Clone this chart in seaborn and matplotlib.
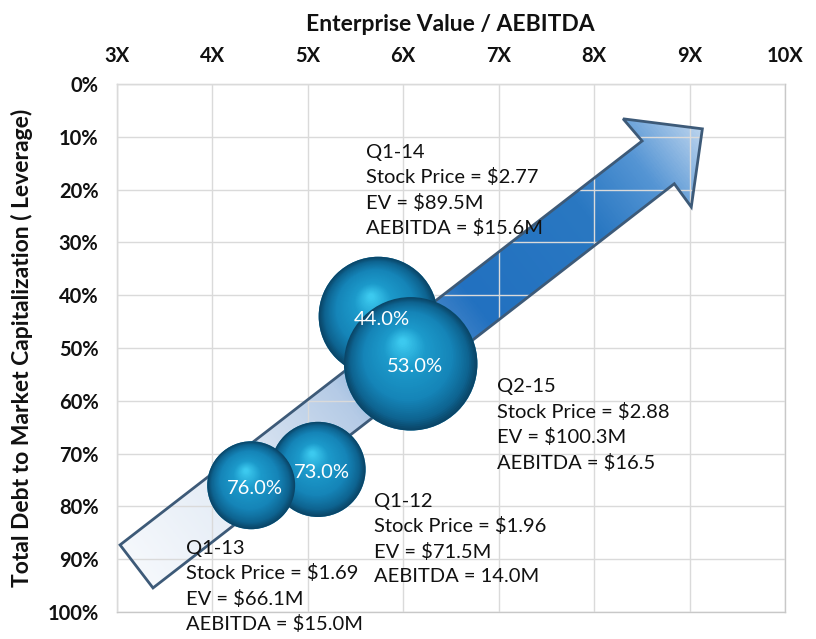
import numpy as np
import pandas as pd
import matplotlib
matplotlib.use("Agg")
import matplotlib.pyplot as plt
import seaborn as sns
from matplotlib.patches import Polygon
from matplotlib.colors import LinearSegmentedColormap
from matplotlib.transforms import offset_copy

sns.set_style("white")
plt.rcParams["font.family"] = ["Lato", "DejaVu Sans"]

# Data, in chronological order
quarters = ["Q1-12", "Q1-13", "Q1-14", "Q2-15"]
ev_multiple = [5.11, 4.41, 5.74, 6.08]      # Enterprise Value / AEBITDA
leverage = [73.0, 76.0, 44.0, 53.0]         # Total debt / market cap (%)
ev_musd = [71.5, 66.1, 89.5, 100.3]         # bubble width follows EV
stock_price = ["$1.96", "$1.69", "$2.77", "$2.88"]
ev_text = ["$71.5M", "$66.1M", "$89.5M", "$100.3M"]
aebitda_text = ["14.0M", "$15.0M", "$15.6M", "$16.5"]

x_ticks = [3, 4, 5, 6, 7, 8, 9, 10]
y_ticks = [0, 10, 20, 30, 40, 50, 60, 70, 80, 90, 100]

df = pd.DataFrame({
    "quarter": quarters,
    "multiple": ev_multiple,
    "leverage": leverage,
    "ev": ev_musd,
})

# layout helpers (not data)
pt_per_musd = 0.958
label_pos = [(5.70, 77.4), (3.73, 86.3), (5.61, 11.3), (6.98, 55.7)]
arrow_pts = [(3.037, 87.3), (8.503, 10.8), (8.304, 6.6), (9.134, 8.5),
             (9.018, 23.3), (8.840, 18.9), (3.382, 95.45)]

fig = plt.figure(figsize=(8.16, 6.39), dpi=100)
ax = fig.add_axes([0.1428, 0.0423, 0.8193, 0.8263])
ax.set_xlim(3, 10)
ax.set_ylim(100, 0)

# ================================================================
# Big gradient arrow behind the bubbles
# ================================================================
arrow = Polygon(arrow_pts, closed=True, facecolor="none",
                edgecolor="#3d5a78", lw=2.0, zorder=2.7, joinstyle="miter")
ax.add_patch(arrow)

arrow_cmap = LinearSegmentedColormap.from_list("arrow", [
    (0.00, "#f5f8fc"), (0.20, "#e0e9f4"), (0.37, "#b5cbe6"),
    (0.50, "#5d93cf"), (0.60, "#2271c0"), (0.80, "#2a78c2"),
    (0.90, "#5595d4"), (1.00, "#bcd4ee")])

xs = np.linspace(3, 10, 700)
ys = np.linspace(0, 100, 530)
X, Y = np.meshgrid(xs, ys)
disp = ax.transData.transform(np.column_stack([X.ravel(), Y.ravel()]))
pts_disp = ax.transData.transform(np.array(arrow_pts))
tail = (pts_disp[0] + pts_disp[6]) / 2
tip = pts_disp[3]
u = (tip - tail) / np.linalg.norm(tip - tail)
s = ((disp - tail) @ u) / np.linalg.norm(tip - tail)
s = np.clip(s, 0, 1).reshape(X.shape)
im = ax.imshow(arrow_cmap(s), extent=(3, 10, 100, 0), origin="upper",
               aspect="auto", zorder=1.5, interpolation="bilinear")
im.set_clip_path(arrow)
ax.set_xlim(3, 10)
ax.set_ylim(100, 0)

# ================================================================
# Bubbles
# ================================================================
sizes = [(v * pt_per_musd) ** 2 for v in df["ev"]]
sns.scatterplot(data=df, x="multiple", y="leverage", s=sizes,
                color="#1689bd", edgecolor="none", legend=False,
                ax=ax, zorder=3)

sphere_cmap = LinearSegmentedColormap.from_list("sphere", [
    (0.00, "#0a4668"), (0.12, "#0e6592"), (0.35, "#1585b8"),
    (0.72, "#1c9acb"), (1.00, "#3cc9ef")])

n_layers = 45
for i, row in df.iterrows():
    d = row["ev"] * pt_per_musd
    r = d / 2
    for k in range(n_layers):
        t = k / (n_layers - 1)
        dk = d * (1 - 0.95 * t)
        trans = offset_copy(ax.transData, fig=fig, x=-0.12 * r * t,
                            y=0.33 * r * t, units="points")
        ax.scatter([row["multiple"]], [row["leverage"]], s=dk ** 2,
                   color=sphere_cmap(t), edgecolors="none", linewidths=0,
                   transform=trans, zorder=4 + i)
    ax.text(row["multiple"] + 0.04, row["leverage"] + 0.6,
            f"{row['leverage']:.1f}%", color="white", fontsize=14.5,
            ha="center", va="center", zorder=20)

# Quarter info labels
for i in range(len(quarters)):
    txt = (f"{quarters[i]}\nStock Price = {stock_price[i]}\n"
           f"EV = {ev_text[i]}\nAEBITDA = {aebitda_text[i]}")
    ax.text(label_pos[i][0], label_pos[i][1], txt, fontsize=14.5,
            color="#111111", ha="left", va="top", linespacing=1.5, zorder=21)

# ================================================================
# Axes styling
# ================================================================
ax.xaxis.tick_top()
ax.xaxis.set_label_position("top")
ax.set_xticks(x_ticks)
ax.set_xticklabels([f"{v}X" for v in x_ticks], fontweight="bold", fontsize=14.5)
ax.set_yticks(y_ticks)
ax.set_yticklabels([f"{v}%" for v in y_ticks], fontweight="bold", fontsize=14.5)
ax.tick_params(axis="x", length=0, pad=13, colors="#111111")
ax.tick_params(axis="y", length=0, pad=13, colors="#111111")
ax.set_xlabel("Enterprise Value / AEBITDA", fontweight="bold", fontsize=16.5,
              labelpad=11, color="#111111")
ax.set_ylabel("Total Debt to Market Capitalization ( Leverage)",
              fontweight="bold", fontsize=16.5, labelpad=10, color="#111111")

ax.set_axisbelow(False)
ax.grid(True, color="#dadada", lw=1.0)
for sp in ax.spines.values():
    sp.set_color("#c8c8c8")
    sp.set_linewidth(1.0)

fig.savefig("out.png", dpi=100, facecolor="white")
